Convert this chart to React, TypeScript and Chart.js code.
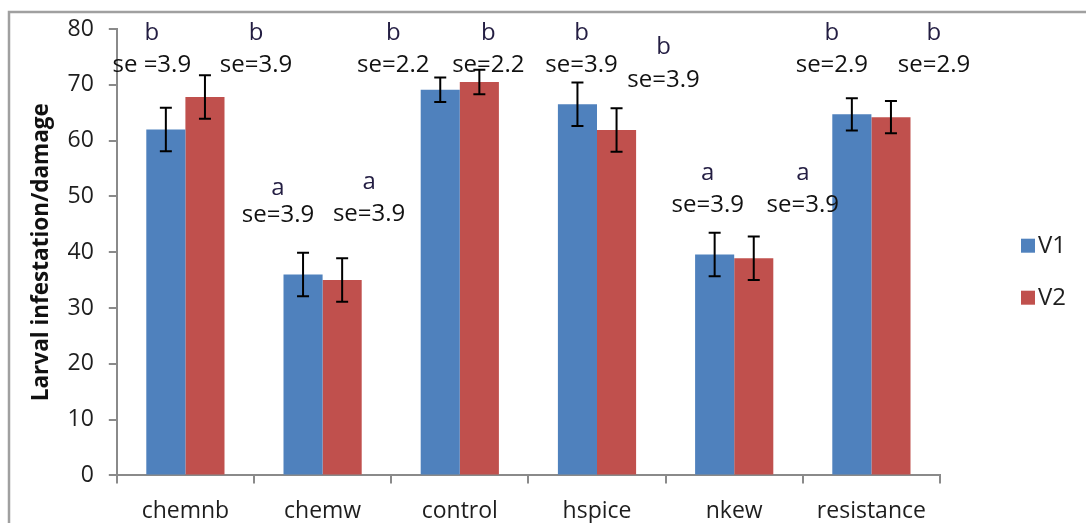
import React, { useEffect, useRef } from "react";
import { Chart, registerables } from "chart.js";

Chart.register(...registerables);

const categories = ["chemnb", "chemw", "control", "hspice", "nkew", "resistance"];
const seriesNames = ["V1", "V2"];
const v1Values = [62.0, 36.0, 69.1, 66.5, 39.6, 64.7];
const v2Values = [67.8, 35.0, 70.5, 61.9, 38.9, 64.2];
const v1Errors = [3.9, 3.9, 2.2, 3.9, 3.9, 2.9];
const v2Errors = [3.9, 3.9, 2.2, 3.9, 3.9, 2.9];
const v1Letters = ["b", "a", "b", "b", "a", "b"];
const v2Letters = ["b", "a", "b", "b", "a", "b"];
const v1SeLabels = ["se =3.9", "se=3.9", "se=2.2", "se=3.9", "se=3.9", "se=2.9"];
const v2SeLabels = ["se=3.9", "se=3.9", "se=2.2", "se=3.9", "se=3.9", "se=2.9"];
// annotation anchor values (y in data units, x as offset in category units)
const v1LetterY = [79.3, 51.4, 79.3, 79.3, 54.1, 79.3];
const v1SeY = [73.5, 46.6, 73.5, 73.5, 48.4, 73.5];
const v2LetterY = [79.3, 52.5, 79.3, 76.8, 54.1, 79.3];
const v2SeY = [73.5, 46.9, 73.5, 70.8, 48.4, 73.5];
const v1LabelOffset = [-0.245, -0.325, -0.485, -0.113, -0.193, -0.288];
const v2LabelOffset = [0.515, 0.339, 0.208, 0.485, 0.5, 0.456];
const yMin = 0;
const yMax = 80;
const yStep = 10;
const yTitle = "Larval infestation/damage";

const BLUE = "#4F81BD";
const RED = "#C0504D";
const FONT = "'Open Sans', 'DejaVu Sans', sans-serif";
const AXIS = "#8a8a8a";
const TXT = "#1e1e1e";

const framePlugin = {
  id: "frame",
  beforeDraw(chart: any) {
    const ctx = chart.ctx;
    ctx.save();
    ctx.fillStyle = "#ffffff";
    ctx.fillRect(0, 0, chart.width, chart.height);
    ctx.strokeStyle = "#a0a0a0";
    ctx.lineWidth = 2.5;
    ctx.beginPath();
    ctx.moveTo(chart.width + 2, 12);
    ctx.lineTo(9, 12);
    ctx.lineTo(9, chart.height + 2);
    ctx.stroke();
    ctx.restore();
  },
};

const errorBarPlugin = {
  id: "errorBars",
  afterDatasetsDraw(chart: any) {
    const ctx = chart.ctx;
    const y = chart.scales.y;
    const errs = [v1Errors, v2Errors];
    ctx.save();
    ctx.strokeStyle = "#000000";
    ctx.lineWidth = 2;
    chart.data.datasets.forEach((ds: any, di: number) => {
      const meta = chart.getDatasetMeta(di);
      meta.data.forEach((bar: any, i: number) => {
        const v = ds.data[i];
        const e = errs[di][i];
        const top = y.getPixelForValue(v + e);
        const bot = y.getPixelForValue(v - e);
        const x = bar.x;
        const cap = 6;
        ctx.beginPath();
        ctx.moveTo(x, top);
        ctx.lineTo(x, bot);
        ctx.moveTo(x - cap, top);
        ctx.lineTo(x + cap, top);
        ctx.moveTo(x - cap, bot);
        ctx.lineTo(x + cap, bot);
        ctx.stroke();
      });
    });
    ctx.restore();
  },
};

const annotationPlugin = {
  id: "annotations",
  afterDraw(chart: any) {
    const ctx = chart.ctx;
    const xs = chart.scales.x;
    const ys = chart.scales.y;
    const groups = [
      { letters: v1Letters, se: v1SeLabels, ly: v1LetterY, sy: v1SeY, off: v1LabelOffset },
      { letters: v2Letters, se: v2SeLabels, ly: v2LetterY, sy: v2SeY, off: v2LabelOffset },
    ];
    ctx.save();
    ctx.textAlign = "center";
    ctx.textBaseline = "middle";
    ctx.font = `24px ${FONT}`;
    groups.forEach((g) => {
      categories.forEach((_, i) => {
        const x = xs.getPixelForValue(i + g.off[i]);
        ctx.fillStyle = "#231d42";
        ctx.fillText(g.letters[i], x, ys.getPixelForValue(g.ly[i]));
        ctx.fillStyle = "#111111";
        ctx.fillText(g.se[i], x, ys.getPixelForValue(g.sy[i]));
      });
    });
    ctx.restore();
  },
};

const legendPlugin = {
  id: "customLegend",
  afterDraw(chart: any) {
    const ctx = chart.ctx;
    const area = chart.chartArea;
    const cy = (area.top + area.bottom) / 2;
    const x0 = area.right + 81;
    const gap = 52;
    ctx.save();
    ctx.font = `24px ${FONT}`;
    ctx.textBaseline = "middle";
    ctx.textAlign = "left";
    chart.data.datasets.forEach((ds: any, i: number) => {
      const yc = cy - 6.5 + i * gap;
      ctx.fillStyle = ds.backgroundColor;
      ctx.fillRect(x0, yc - 7, 14, 14);
      ctx.fillStyle = TXT;
      ctx.fillText(ds.label, x0 + 17, yc);
    });
    ctx.restore();
  },
};

export default function App() {
  const canvasRef = useRef<HTMLCanvasElement | null>(null);

  useEffect(() => {
    if (!canvasRef.current) return;
    const chart = new Chart(canvasRef.current, {
      type: "bar",
      data: {
        labels: categories,
        datasets: [
          { label: seriesNames[0], data: v1Values, backgroundColor: BLUE, barPercentage: 1, categoryPercentage: 0.57 },
          { label: seriesNames[1], data: v2Values, backgroundColor: RED, barPercentage: 1, categoryPercentage: 0.57 },
        ],
      },
      options: {
        animation: false,
        responsive: true,
        maintainAspectRatio: false,
        layout: { padding: { left: 0, right: 146, top: 29, bottom: -16 } },
        plugins: {
          legend: { display: false },
          tooltip: { enabled: false },
        },
        scales: {
          x: {
            grid: { display: true, drawOnChartArea: false, drawTicks: true, tickLength: 8, color: AXIS, lineWidth: 2, offset: true },
            border: { display: true, color: AXIS, width: 2 },
            ticks: { color: TXT, font: { family: FONT, size: 23 }, padding: 14, maxRotation: 0 },
          },
          y: {
            min: yMin,
            max: yMax,
            ticks: { stepSize: yStep, color: TXT, font: { family: FONT, size: 23 }, padding: 15 },
            grid: { display: true, drawOnChartArea: false, drawTicks: true, tickLength: 8, color: AXIS, lineWidth: 2 },
            border: { display: true, color: AXIS, width: 2 },
            title: {
              display: true,
              text: yTitle,
              color: "#111111",
              font: { family: FONT, size: 22.5, weight: "bold", lineHeight: 1.0 },
              padding: { top: 30, bottom: 0 },
            },
          },
        },
      },
      plugins: [framePlugin, errorBarPlugin, annotationPlugin, legendPlugin],
    });
    return () => chart.destroy();
  }, []);

  return (
    <div style={{ position: "absolute", left: 0, top: 0, width: 1086, height: 523 }}>
      <canvas ref={canvasRef} />
    </div>
  );
}
